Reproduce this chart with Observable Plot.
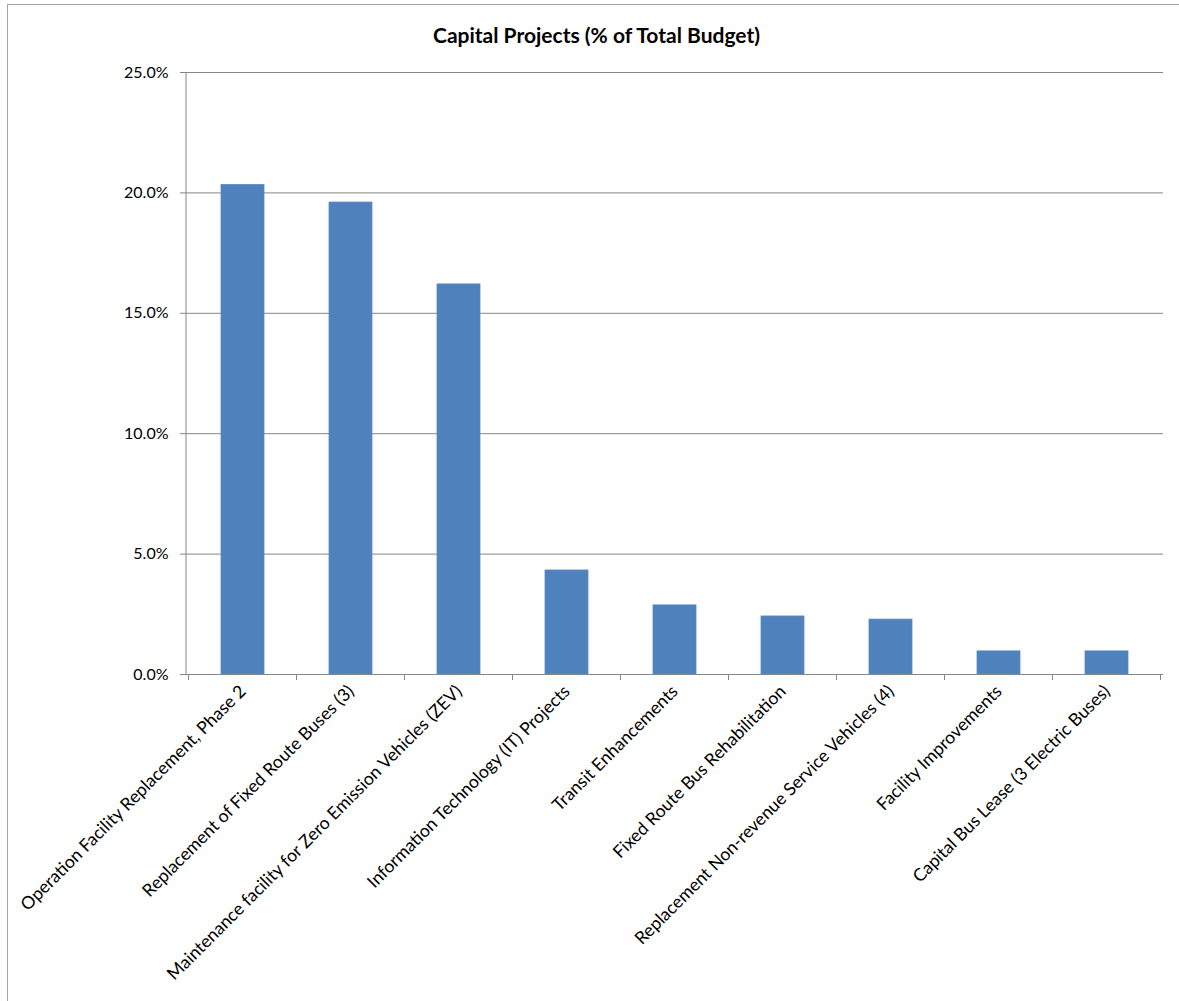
<!DOCTYPE html>
<html>
<head>
<meta charset="utf-8">
<script src="https://cdn.jsdelivr.net/npm/d3@7"></script>
<script src="https://cdn.jsdelivr.net/npm/@observablehq/plot@0.6"></script>
<style>
  html, body { margin: 0; padding: 0; background: #fff; }
  body { width: 1179px; height: 1001px; position: relative; overflow: hidden; font-family: Lato, "Open Sans", sans-serif; }
  #frame { position: absolute; left: 7px; top: 4px; width: 1200px; height: 1100px; border: 1.5px solid #a6a6a6; box-sizing: border-box; }
  #title { position: absolute; left: 7px; width: 1179px; top: 22px; text-align: center; font-weight: bold; font-size: 21px; line-height: 26px; color: #000; }
  #chart { position: absolute; left: 0; top: 0; }
</style>
</head>
<body>
<div id="frame"></div>
<div id="chart"></div>
<div id="title">Capital Projects (% of Total Budget)</div>
<script>
const categories = [
  "Operation Facility Replacement, Phase 2",
  "Replacement of Fixed Route Buses (3)",
  "Maintenance facility for Zero Emission Vehicles (ZEV)",
  "Information Technology (IT) Projects",
  "Transit Enhancements",
  "Fixed Route Bus Rehabilitation",
  "Replacement Non-revenue Service Vehicles (4)",
  "Facility Improvements",
  "Capital Bus Lease (3 Electric Buses)"
];
const values = [20.33, 19.6, 16.2, 4.32, 2.87, 2.41, 2.28, 0.96, 0.96];
const yTicks = [0, 5, 10, 15, 20, 25];

const data = categories.map((c, i) => ({category: c, value: values[i]}));
const gray = "#868686";

const boundaryMark = (index, scales, values, dims) => {
  const g = d3.create("svg:g");
  const x = scales.x;
  const step = x.step ? x.step() : (x.bandwidth() / 0.4);
  const y0 = dims.height - dims.marginBottom;
  const left = dims.marginLeft;
  g.append("line").attr("x1", left).attr("x2", left)
    .attr("y1", dims.marginTop).attr("y2", y0)
    .attr("stroke", gray).attr("stroke-width", 1);
  const starts = categories.map(c => x(c) - (step - x.bandwidth()) / 2);
  starts.push(starts[starts.length - 1] + step);
  for (const sx of starts) {
    g.append("line").attr("x1", sx).attr("x2", sx)
      .attr("y1", y0).attr("y2", y0 + 6)
      .attr("stroke", gray).attr("stroke-width", 1);
  }
  return g.node();
};

const chart = Plot.plot({
  width: 1179,
  height: 1001,
  marginLeft: 186,
  marginRight: 16,
  marginTop: 72,
  marginBottom: 327,
  style: {fontFamily: "Lato, 'Open Sans', sans-serif", fontSize: "16px", color: "#000", background: "transparent"},
  x: {domain: categories, paddingInner: 0.6, paddingOuter: 0.3, label: null},
  y: {domain: [0, 25], label: null},
  marks: [
    Plot.gridY(yTicks, {stroke: gray, strokeOpacity: 1, strokeWidth: 1}),
    Plot.barY(data, {x: "category", y: "value", fill: "#4f81bd", stroke: "#5a8ac4", strokeWidth: 0.8}),
    Plot.ruleY([0], {stroke: gray, strokeWidth: 1}),
    boundaryMark,
    Plot.axisY(yTicks, {tickFormat: d => d.toFixed(1) + "%", tickSize: 6, tickPadding: 12, stroke: gray, fill: "#000", fontSize: 16}),
    Plot.axisX({tickRotate: -45, tickSize: 0, tickPadding: 14, fill: "#000", fontSize: 17.6})
  ]
});
document.getElementById("chart").appendChild(chart);
</script>
</body>
</html>
